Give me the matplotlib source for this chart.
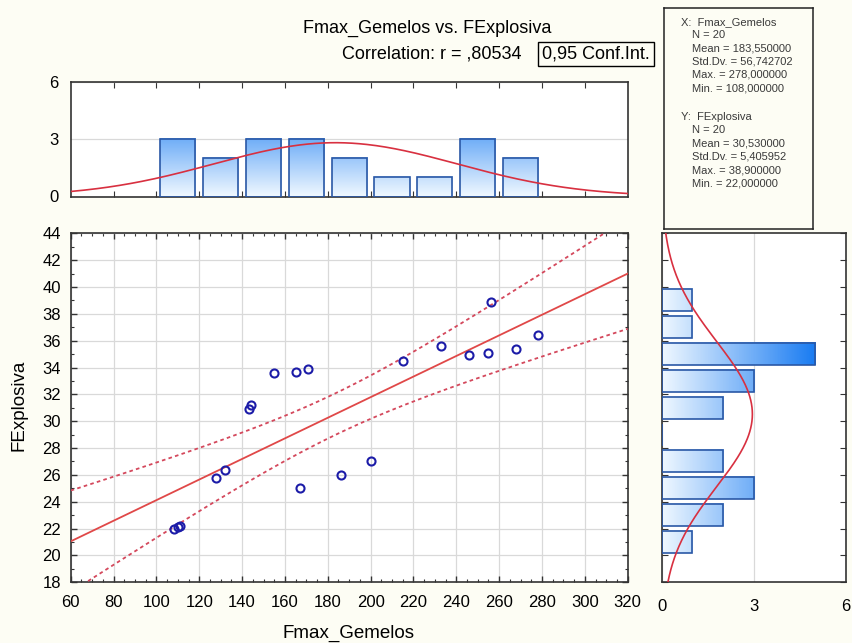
import numpy as np
import matplotlib
matplotlib.use('Agg')
import matplotlib.pyplot as plt
from matplotlib.colors import LinearSegmentedColormap
from matplotlib.ticker import MultipleLocator

plt.rcParams['font.family'] = ['Liberation Sans', 'DejaVu Sans']

# datos de las 20 observaciones
fmax_gemelos = [108, 110, 111, 128, 132, 143, 144, 155, 165, 167,
                171, 186, 200, 215, 233, 246, 255, 256, 268, 278]
fexplosiva = [22.0, 22.1, 22.2, 25.8, 26.4, 30.9, 31.2, 33.6, 33.7, 25.0,
              33.9, 26.0, 27.0, 34.5, 35.6, 34.9, 35.1, 38.9, 35.4, 36.4]

x_name = 'Fmax_Gemelos'
y_name = 'FExplosiva'
n_obs = 20
x_stats = {'Mean': 183.55, 'Std.Dv.': 56.742702, 'Max.': 278.0, 'Min.': 108.0}
y_stats = {'Mean': 30.53, 'Std.Dv.': 5.405952, 'Max.': 38.9, 'Min.': 22.0}
r_value = 0.80534
t_crit = 2.1009  # t(0.975, 18)

x_edges = np.arange(100, 281, 20)
y_edges = np.arange(20, 41, 2)

BG = '#fdfdf4'
LINE_RED = '#e04848'
DASH_RED = '#d4485c'
EDGE_BLUE = '#2a58a6'
GRID = '#d9d9d9'
TICK_FS = 12
LABEL_FS = 13.5
bar_cmap = LinearSegmentedColormap.from_list('barras', ['#eef7ff', '#1a7cf2'])


def hist_right_closed(vals, edges):
    idx = np.searchsorted(edges, vals, side='left') - 1
    return np.bincount(idx, minlength=len(edges) - 1)


def frame(l, t, r, b):
    return [l / 852, 1 - b / 643, (r - l) / 852, (b - t) / 643]


def style_spines(ax):
    for s in ax.spines.values():
        s.set_color('#333333')
        s.set_linewidth(1.2)


def normal_curve(v, mean, sd, scale):
    return scale * np.exp(-0.5 * ((v - mean) / sd) ** 2) / (sd * np.sqrt(2 * np.pi))


x_counts = hist_right_closed(np.array(fmax_gemelos), x_edges)
y_counts = hist_right_closed(np.array(fexplosiva), y_edges)

# recta de regresion e intervalo de confianza 0,95
mx, sx = x_stats['Mean'], x_stats['Std.Dv.']
my, sy = y_stats['Mean'], y_stats['Std.Dv.']
slope = r_value * sy / sx
intercept = my - slope * mx
s_res = sy * np.sqrt((1 - r_value ** 2) * (n_obs - 1) / (n_obs - 2))
sxx = (n_obs - 1) * sx ** 2
xx = np.linspace(60, 320, 300)
fit = intercept + slope * xx
band = t_crit * s_res * np.sqrt(1 / n_obs + (xx - mx) ** 2 / sxx)

fig = plt.figure(figsize=(8.52, 6.43), dpi=100, facecolor=BG)

# ---- grafico principal ----
ax = fig.add_axes(frame(70.7, 233.3, 627.7, 582.3))
ax.set_facecolor('white')
ax.plot(xx, fit, color=LINE_RED, lw=1.3, zorder=3)
ax.plot(xx, fit + band, color=DASH_RED, lw=1.3, ls=(0, (2, 1.8)), zorder=3)
ax.plot(xx, fit - band, color=DASH_RED, lw=1.3, ls=(0, (2, 1.8)), zorder=3)
ax.plot(fmax_gemelos, fexplosiva, 'o', ms=5.8, mfc='none', mec='#1c1ca8', mew=1.5, zorder=4)
ax.set_xlim(60, 320)
ax.set_ylim(18, 44)
ax.xaxis.set_major_locator(MultipleLocator(20))
ax.xaxis.set_minor_locator(MultipleLocator(5))
ax.yaxis.set_major_locator(MultipleLocator(2))
ax.yaxis.set_minor_locator(MultipleLocator(1))
ax.grid(True, which='major', color=GRID, lw=0.9, zorder=0)
ax.set_axisbelow(True)
ax.tick_params(which='both', direction='in', top=True, right=True, labelsize=TICK_FS,
               color='#333333')
ax.tick_params(which='major', length=4, width=1)
ax.tick_params(which='minor', length=2.5, width=0.8)
ax.tick_params(axis='x', which='major', pad=9)
ax.tick_params(axis='y', which='major', pad=7)
style_spines(ax)

# ---- histograma superior ----
axt = fig.add_axes(frame(70.7, 81.7, 627.7, 196.5))
axt.set_facecolor('white')
xc = (x_edges[:-1] + x_edges[1:]) / 2
bw = 16.4
for c, h in zip(xc, x_counts):
    if h == 0:
        continue
    grad = np.linspace(0, h, 64).reshape(-1, 1)
    axt.imshow(grad, extent=[c - bw / 2, c + bw / 2, 0, h], origin='lower',
               aspect='auto', cmap=bar_cmap, vmin=0, vmax=5, zorder=2)
axt.bar(xc, x_counts, width=bw, fill=False, edgecolor=EDGE_BLUE, lw=1.2, zorder=3)
axt.plot(xx, normal_curve(xx, mx, sx, n_obs * 20), color='#d83040', lw=1.2, zorder=4)
axt.set_xlim(60, 320)
axt.set_ylim(0, 6)
axt.set_xticks(np.arange(80, 301, 20))
axt.set_yticks([0, 3, 6])
axt.yaxis.grid(True, color=GRID, lw=0.9)
axt.set_axisbelow(True)
axt.tick_params(axis='x', direction='in', top=True, labelbottom=False, length=4, color='#333333')
axt.tick_params(axis='y', length=0, pad=9, labelsize=TICK_FS)
style_spines(axt)

# ---- histograma derecho ----
axr = fig.add_axes(frame(661.7, 233.3, 846, 582.3))
axr.set_facecolor('white')
yc = (y_edges[:-1] + y_edges[1:]) / 2
bh = 1.64
for c, w in zip(yc, y_counts):
    if w == 0:
        continue
    grad = np.linspace(0, w, 64).reshape(1, -1)
    axr.imshow(grad, extent=[0, w, c - bh / 2, c + bh / 2], origin='lower',
               aspect='auto', cmap=bar_cmap, vmin=0, vmax=5, zorder=2)
axr.barh(yc, y_counts, height=bh, fill=False, edgecolor=EDGE_BLUE, lw=1.2, zorder=3)
yy = np.linspace(18, 44, 300)
axr.plot(normal_curve(yy, my, sy, n_obs * 2), yy, color='#d83040', lw=1.2, zorder=4)
axr.set_xlim(0, 6)
axr.set_ylim(18, 44)
axr.set_xticks([0, 3, 6])
axr.yaxis.set_major_locator(MultipleLocator(2))
axr.xaxis.grid(True, color=GRID, lw=0.9)
axr.set_axisbelow(True)
axr.tick_params(axis='y', direction='in', left=True, right=True, labelleft=False,
                length=4, color='#333333')
axr.tick_params(axis='x', length=0, pad=12, labelsize=TICK_FS)
style_spines(axr)

# ---- cuadro de estadisticos ----
axs = fig.add_axes(frame(664, 8, 813, 229))
axs.set_facecolor('none')
axs.set_xticks([])
axs.set_yticks([])
for s in axs.spines.values():
    s.set_color('#222222')
    s.set_linewidth(1.1)


def fmt(v):
    return f'{v:.6f}'.replace('.', ',')


def stat_block(label, name, stats, y0):
    fig.text(681 / 852, 1 - y0 / 643, f'{label}:  {name}', fontsize=8,
             va='center', color='#3a3a3a')
    lines = [f'N = {n_obs}'] + [f'{k} = {fmt(v)}' for k, v in stats.items()]
    for i, line in enumerate(lines):
        fig.text(692 / 852, 1 - (y0 + 13.3 * (i + 1)) / 643, line, fontsize=8,
                 va='center', color='#3a3a3a')


stat_block('X', x_name, x_stats, 21.7)
stat_block('Y', y_name, y_stats, 117)

# ---- titulos ----
fig.text(427 / 852, 1 - 28 / 643, f'{x_name} vs. {y_name}', ha='center', va='center',
         fontsize=13)
r_txt = f'{r_value:.5f}'.lstrip('0').replace('.', ',')
fig.text(521 / 852, 1 - 54 / 643, f'Correlation: r = {r_txt}', ha='right', va='center',
         fontsize=13)
fig.text(596 / 852, 1 - 54 / 643, '0,95 Conf.Int.', ha='center', va='center', fontsize=13,
         bbox=dict(boxstyle='square,pad=0.22', fc='none', ec='black', lw=1))
fig.text(348 / 852, 1 - 633 / 643, x_name, ha='center', va='center', fontsize=LABEL_FS)
fig.text(19 / 852, 1 - 405 / 643, y_name, ha='center', va='center', fontsize=LABEL_FS,
         rotation=90)

fig.savefig('out.png', dpi=100, facecolor=BG)
